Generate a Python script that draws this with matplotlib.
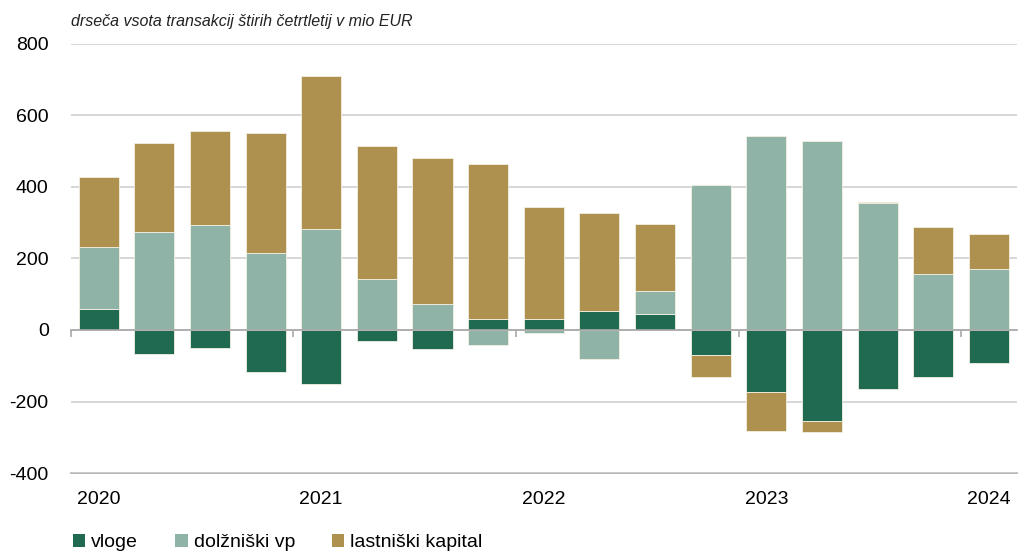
import numpy as np
import matplotlib
matplotlib.use('Agg')
from matplotlib import pyplot as plt
from matplotlib.patches import Patch

plt.rcParams['font.family'] = ['Liberation Sans', 'DejaVu Sans']
plt.rcParams['axes.unicode_minus'] = False

quarters = ['2020Q1', '2020Q2', '2020Q3', '2020Q4', '2021Q1', '2021Q2', '2021Q3', '2021Q4',
            '2022Q1', '2022Q2', '2022Q3', '2022Q4', '2023Q1', '2023Q2', '2023Q3', '2023Q4',
            '2024Q1']
year_labels = ['2020', '2021', '2022', '2023', '2024']

vloge = [60, -66, -51, -118, -152, -30, -53, 30, 32, 52, 46, -69, -174, -254, -166, -130, -91]
dolzniski = [171, 273, 294, 216, 282, 143, 74, -41, -7, -80, 64, 405, 541, 529, 356, 157, 170]
lastniski = [196, 250, 261, 335, 429, 372, 408, 434, 313, 275, 186, -62, -108, -31, 2, 131, 97]

series = [('vloge', vloge, '#1f6a51'),
          ('dolžniški vp', dolzniski, '#8fb4a7'),
          ('lastniški kapital', lastniski, '#ae914e')]


def main():
    fig = plt.figure(figsize=(10.27, 5.54), dpi=100)
    ax = fig.add_axes([0.069, 0.146, 0.921, 0.775])

    x = np.arange(len(quarters))
    pos_bottom = np.zeros(len(x))
    neg_bottom = np.zeros(len(x))
    for name, vals, color in series:
        v = np.array(vals, dtype=float)
        bottom = np.where(v >= 0, pos_bottom, neg_bottom)
        ax.bar(x, v, bottom=bottom, width=0.72, color=color,
               edgecolor='#f3efe3', linewidth=0.6, zorder=3)
        pos_bottom += np.where(v >= 0, v, 0)
        neg_bottom += np.where(v < 0, v, 0)

    ax.set_xlim(-0.5, len(x) - 0.5)
    ax.set_ylim(-400, 800)
    ax.set_yticks(range(-400, 801, 200))
    ax.yaxis.grid(True, color='#d0d0d0', linewidth=1.2, zorder=0)
    ax.tick_params(axis='y', length=0, labelsize=14, pad=16)

    for s in ['top', 'right', 'left']:
        ax.spines[s].set_visible(False)
    # zero line with year separators
    ax.spines['bottom'].set_position(('data', 0))
    ax.spines['bottom'].set_color('#a8a8a8')
    ax.spines['bottom'].set_linewidth(1.2)
    ax.spines['bottom'].set_zorder(4)
    ax.set_xticks(np.arange(-0.5, len(x), 4))
    ax.set_xticklabels([])
    ax.tick_params(axis='x', direction='out', length=5, color='#a8a8a8', width=1.2)

    # year labels below the plot
    sec = ax.secondary_xaxis('bottom')
    sec.set_xticks(np.arange(0, len(x), 4))
    sec.set_xticklabels(year_labels)
    sec.tick_params(length=0, labelsize=14, pad=13)
    sec.spines['bottom'].set_color('#a8a8a8')
    sec.spines['bottom'].set_linewidth(1.2)

    fig.text(0.069, 0.962, 'drseča vsota transakcij štirih četrtletij v mio EUR',
             fontsize=11.5, style='italic', va='center', ha='left', color='#222222')

    handles = [Patch(facecolor=c, edgecolor='none') for _, _, c in series]
    fig.legend(handles, [n for n, _, _ in series], loc='lower left',
               bbox_to_anchor=(0.068, 0.0), ncol=3, frameon=False, fontsize=14,
               handlelength=0.65, handleheight=0.65, handletextpad=0.3,
               columnspacing=1.9, borderpad=0.15, borderaxespad=0)

    fig.savefig('out.png', dpi=100)


if __name__ == '__main__':
    main()
